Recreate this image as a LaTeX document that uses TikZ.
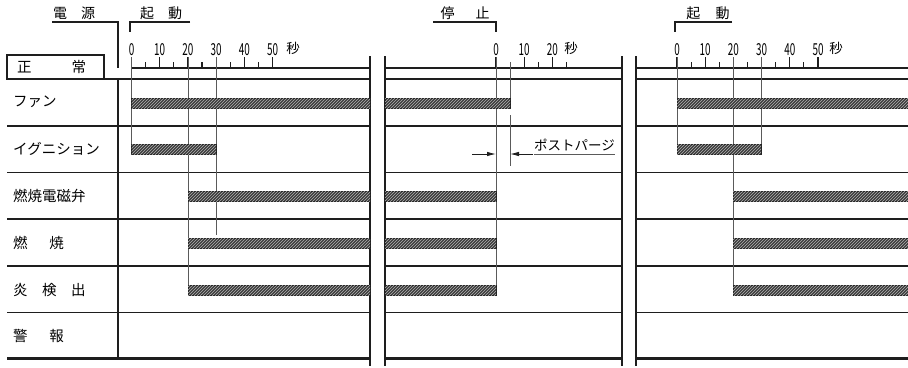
\documentclass[tikz,border=0pt]{standalone}
\usepackage{fontspec}
\setmainfont{Noto Sans CJK JP}
\usetikzlibrary{arrows.meta,patterns,positioning}
\definecolor{ink}{HTML}{1E1E1E}
\definecolor{guidegray}{HTML}{5A5A5A}
\definecolor{barfill}{HTML}{3C3C3C}
\tikzset{
  frame/.style={draw=ink,line width=2.6pt},
  rowline/.style={draw=ink,line width=1.1pt},
  bracket/.style={draw=ink,line width=1.2pt},
  guide/.style={draw=guidegray,line width=0.9pt},
  hatchbar/.style={draw=ink,line width=0.5pt,fill=barfill,
    postaction={pattern=north east lines,pattern color=white!70!black}},
  rowlabel/.style={anchor=west,inner sep=0pt,font=\fontsize{14.5}{15}\selectfont},
  headlabel/.style={anchor=base,inner sep=0pt,font=\fontsize{14}{14}\selectfont},
  scalenum/.style={anchor=base,inner sep=0pt,font=\fontsize{16.5}{16.5}\selectfont},
  dimarrow/.style={-{Latex[length=9pt,width=4.5pt]},guide,draw=ink}
}

\begin{document}
\begin{tikzpicture}[x=1pt,y=-1pt]
\useasboundingbox (0,0) rectangle (908,367);
% headings
\node[headlabel] (dengen) at (74,18.5) {電\hspace{1em}源};
\node[headlabel] (kidou1) at (161,18.5) {起\hspace{1em}動};
\node[headlabel] (teishi) at (465,18.5) {停\hspace{1.5em}止};
\node[headlabel] (kidou2) at (708,18.5) {起\hspace{1.1em}動};
\draw[bracket] (52,22) -- (118,22) -- (118,68);
\draw[bracket] (190,22) -- (130,22) -- (130,32);
\draw[bracket] (433,22) -- (496,22) -- (496,32);
\draw[bracket] (732,22) -- (675,22) -- (675,32);

% row labels
\node[rowlabel] (seijou) at (17,67) {正\hspace{40pt}常};
\draw[frame,line width=2.2pt] (7,55) rectangle (104,79);
\node[rowlabel] (fan) at (13,102) {ファン};
\node[rowlabel] (ign) at (13,149) {イグニション};
\node[rowlabel] (valve) at (13,196) {燃焼電磁弁};
\node[rowlabel] (burn) at (13,243) {燃\hspace{1.5em}焼};
\node[rowlabel] (flame) at (13,290) {炎\hspace{1em}検\hspace{1em}出};
\node[rowlabel] (alarm) at (13,336) {警\hspace{1.5em}報};

% grid
\foreach \xa/\xb in {7/370,385/622,636/908}{
  \foreach \y in {126,172.5,219,266,312.5} \draw[rowline] (\xa,\y) -- (\xb,\y);
  \draw[frame] (\xa,79) -- (\xb,79);
  \draw[frame] (\xa,358.5) -- (\xb,358.5);
}
\foreach \xa/\xb in {131.5/370,385/622,636/908} \draw[rowline] (\xa,68) -- (\xb,68);
\draw[frame] (118,79) -- (118,358.5);
\foreach \x in {370,385,622,636} \draw[rowline] (\x,56) -- (\x,366);

% time scales
\foreach \o/\k/\n/\m/\sx in {131.5/a/50/45/293, 496/b/20/25/571, 677/c/50/45/836}{
  \foreach \s in {0,10,...,\n}{
    \draw[rowline] (\o+\s*2.82,57) -- (\o+\s*2.82,68);
    \node[scalenum] (num\k\s) at (\o+\s*2.82,55) {\scalebox{0.6}[1]{\s}};
  }
  \foreach \s in {5,15,...,\m} \draw[rowline] (\o+\s*2.82,62) -- (\o+\s*2.82,68);
  \node[scalenum,font=\fontsize{13.5}{13.5}\selectfont] (byou\k) at (\sx,53.5) {秒};
}

% timing guides
\draw[guide] (131.5,57) -- (131.5,154);
\draw[guide] (188,57) -- (188,295);
\draw[guide] (216,57) -- (216,235);
\draw[guide] (496,57) -- (496,295);
\draw[guide] (510,62) -- (510,108);
\draw[guide] (510,115) -- (510,166);
\draw[guide] (677,57) -- (677,154);
\draw[guide] (733,57) -- (733,295);
\draw[guide] (761,57) -- (761,154);

% bars
\foreach \xa/\xb/\yc in {131.5/370/103, 385/510/103, 677/908/103,
    131.5/216/149, 677/761/149,
    188/370/196, 385/496/196, 733/908/196,
    188/370/243, 385/496/243, 733/908/243,
    188/370/290, 385/496/290, 733/908/290}
  \draw[hatchbar] (\xa,\yc-5) rectangle (\xb,\yc+5);

% post purge
\coordinate (pp-a) at (472,154);
\coordinate (pp-b) at (496,154);
\coordinate (pp-c) at (533,154);
\coordinate (pp-d) at (510,154);
\draw[dimarrow] (pp-a) -- (pp-b);
\draw[dimarrow] (pp-c) -- (pp-d);
\node[rowlabel,font=\fontsize{13.5}{14}\selectfont,anchor=base west] (postpurge) at (534,150.5) {ポストパージ};
\draw[guide] (postpurge.west |- pp-c) -- (postpurge.east |- pp-c);
\end{tikzpicture}
\end{document}
